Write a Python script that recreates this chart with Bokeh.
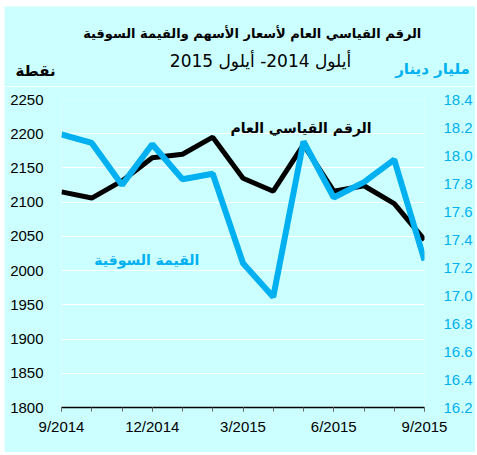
from bokeh.plotting import figure
from bokeh.models import (Range1d, LinearAxis, FixedTicker, Label, PrintfTickFormatter,
                          ColumnDataSource)
from bokeh.embed import file_html
from bokeh.resources import INLINE

# ---- data ----
months = list(range(13))
tick_positions = [0, 3, 6, 9, 12]
tick_labels = ["9/2014", "12/2014", "3/2015", "6/2015", "9/2015"]
index_values = [2115, 2106, 2131, 2165, 2170, 2195, 2135, 2116, 2184, 2116, 2124, 2098, 2045]
market_values = [18.15, 18.09, 17.79, 18.08, 17.83, 17.87, 17.23, 16.99, 18.10, 17.70, 17.81, 17.97, 17.25]
left_ticks = [1800, 1850, 1900, 1950, 2000, 2050, 2100, 2150, 2200, 2250]
right_ticks = [16.2, 16.4, 16.6, 16.8, 17.0, 17.2, 17.4, 17.6, 17.8, 18.0, 18.2, 18.4]

title1 = "الرقم القياسي العام لأسعار الأسهم  والقيمة السوقية"
title2 = "أيلول 2014- أيلول 2015"
left_label = "نقطة"
right_label = "مليار دينار"
index_name = "الرقم القياسي العام"
market_name = "القيمة السوقية"

BG = "#CCFFFF"
CYAN = "#00B0F0"
AR_FONT = "DejaVu Sans"
NUM_FONT = "Liberation Sans"

W = 471
HEAD_H = 80

# ---- header (titles and axis names) ----
head = figure(width=W, height=HEAD_H, output_backend="svg", toolbar_location=None,
              x_range=Range1d(0, W), y_range=Range1d(HEAD_H, 0),
              x_axis_type=None, y_axis_type=None,
              min_border_left=0, min_border_right=0, min_border_top=0, min_border_bottom=0,
              margin=(6, 2, 0, 4))
head.background_fill_color = BG
head.border_fill_color = BG
head.outline_line_color = None
head.grid.visible = False

def hlab(fig, x, y, text, size, color="black", bold=True):
    fig.add_layout(Label(x=x, y=y, text=text, text_font=AR_FONT, text_font_size=size,
                         text_font_style="bold" if bold else "normal", text_color=color,
                         text_align="center", text_baseline="middle"))

hlab(head, 250, 27, title1, "13px")
hlab(head, 256, 54, title2, "17px", bold=False)
hlab(head, 31, 64, left_label, "15px")
hlab(head, 428, 62, right_label, "15px", color=CYAN)

# ---- main chart ----
p = figure(width=W, height=366, output_backend="svg", toolbar_location=None,
           x_range=Range1d(0, 12), y_range=Range1d(1800, 2250),
           min_border_left=57, min_border_right=46, min_border_top=13, min_border_bottom=45,
           margin=(0, 2, 3, 4))
p.extra_y_ranges = {"right": Range1d(16.2, 18.4)}
p.background_fill_color = BG
p.border_fill_color = BG
p.outline_line_color = None

# x axis
xa = p.xaxis[0]
xa.ticker = FixedTicker(ticks=tick_positions, minor_ticks=months)
xa.major_label_overrides = {t: l for t, l in zip(tick_positions, tick_labels)}
xa.axis_line_color = "black"
xa.axis_line_width = 1.5
xa.major_tick_in = 0
xa.major_tick_out = 4
xa.minor_tick_in = 0
xa.minor_tick_out = 4
xa.major_tick_line_color = "#666666"
xa.minor_tick_line_color = "#666666"
xa.major_label_text_font = NUM_FONT
xa.major_label_text_font_size = "15px"
xa.major_label_text_color = "black"
xa.major_label_standoff = 6

# left axis
ya = p.yaxis[0]
ya.ticker = FixedTicker(ticks=left_ticks)
ya.axis_line_color = None
ya.major_tick_line_color = None
ya.minor_tick_line_color = None
ya.major_label_text_font = NUM_FONT
ya.major_label_text_font_size = "15px"
ya.major_label_text_color = "black"
ya.major_label_standoff = 12

# right axis
ra = LinearAxis(y_range_name="right", ticker=FixedTicker(ticks=right_ticks),
                formatter=PrintfTickFormatter(format="%.1f"))
ra.axis_line_color = None
ra.major_tick_line_color = None
ra.minor_tick_line_color = None
ra.major_label_text_font = NUM_FONT
ra.major_label_text_font_size = "15px"
ra.major_label_text_color = CYAN
ra.major_label_standoff = 13
p.add_layout(ra, "right")

# grid
p.xgrid.visible = False
p.ygrid[0].ticker = FixedTicker(ticks=left_ticks[1:])
p.ygrid[0].grid_line_color = "white"
p.ygrid[0].grid_line_width = 1

src = ColumnDataSource(dict(m=months, idx=index_values, mv=market_values))
p.line("m", "idx", source=src, line_color="black", line_width=5)
p.line("m", "mv", source=src, line_color=CYAN, line_width=6, y_range_name="right")

hlab(p, 7.92, 2208, index_name, "14px")
hlab(p, 2.82, 2015, market_name, "14px", color=CYAN)

open("out.html", "w").write(file_html([head, p], INLINE))
